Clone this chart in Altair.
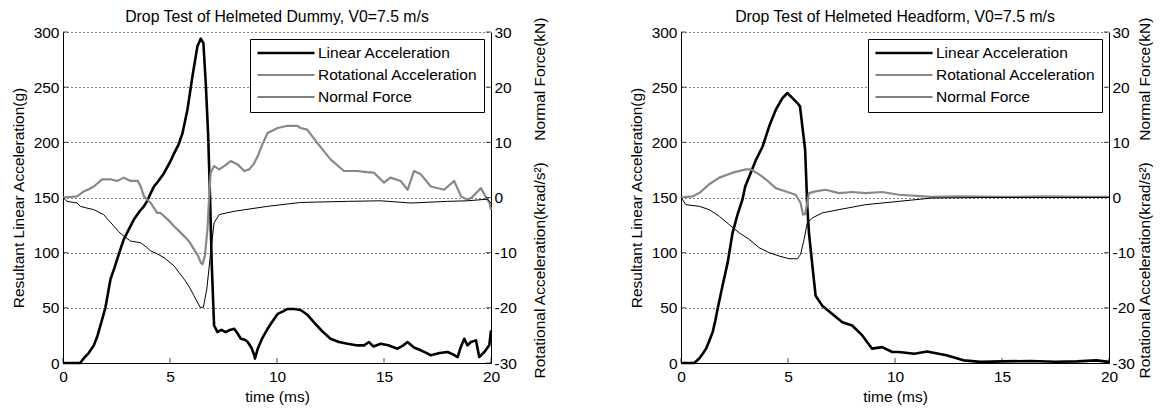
import altair as alt
import pandas as pd

FONT = "Liberation Sans"
FS = 15.5

SERIES = ["Linear Acceleration", "Rotational Acceleration", "Normal Force"]
COLORS = ["#000000", "#888888", "#000000"]
WIDTHS = [2.6, 2.2, 1.0]

TITLES = ["Drop Test of Helmeted Dummy, V0=7.5 m/s",
          "Drop Test of Helmeted Headform, V0=7.5 m/s"]
X_TITLE = "time (ms)"
YL_TITLE = "Resultant Linear Acceleration(g)"
YR_TITLE = "Rotational Acceleration(krad/s\u00b2)" + "\u00a0" * 5 + "Normal Force(kN)"

X_TICKS = [0, 5, 10, 15, 20]
YL_TICKS = [0, 50, 100, 150, 200, 250, 300]
YR_TICKS = [-30, -20, -10, 0, 10, 20, 30]

# ---- Dummy ----
dummy_lin_t = [0, 0.5, 0.8, 1.0, 1.2, 1.44, 1.6, 1.75, 1.98, 2.1, 2.22, 2.4, 2.53, 2.7, 2.84, 3.1,
               3.31, 3.6, 3.78, 3.94, 4.1, 4.25, 4.5, 4.72, 5.0, 5.19, 5.4, 5.58, 5.81, 6.05, 6.28,
               6.44, 6.56, 6.67, 6.78, 6.875, 6.95, 7.06, 7.22, 7.4, 7.6, 7.8, 8.0, 8.15, 8.31, 8.5,
               8.63, 8.8, 8.94, 8.97, 9.1, 9.3, 9.56, 9.8, 10.03, 10.3, 10.5, 10.8, 11.1, 11.4, 11.72,
               12.1, 12.5, 12.9, 13.29, 13.7, 14.07, 14.3, 14.5, 14.85, 15.2, 15.63, 15.9, 16.1, 16.4,
               16.72, 17.0, 17.19, 17.6, 17.97, 18.2, 18.44, 18.6, 18.75, 18.9, 19.06, 19.3, 19.45,
               19.69, 19.92, 20.0]
dummy_lin_v = [0, 0, 0, 5, 9, 16, 24, 34, 50, 63, 76, 86, 94, 104, 112, 122,
               130, 138, 142, 147, 154, 160, 166, 172, 182, 190, 198, 208, 229, 260, 287,
               294, 290, 254, 208, 148, 90, 34, 28, 30, 28, 30, 31, 27, 22, 21,
               19, 14, 7, 4, 13, 22, 31, 38, 44.5, 47, 49, 49, 48, 44, 37,
               29, 22, 19, 17.5, 16, 16, 19, 15, 17.5, 16, 13, 16, 19, 14,
               11.5, 9, 7, 9, 10, 8, 5.4, 15, 22, 16, 19, 20.5, 5.4,
               10, 16, 29.5]

dummy_rot_t = [0, 0.66, 0.97, 1.2, 1.44, 1.83, 2.22, 2.53, 2.84, 3.16, 3.5, 3.65, 3.78, 3.94, 4.1,
               4.4, 4.56, 4.9, 5.19, 5.4, 5.66, 5.9, 6.12, 6.3, 6.44, 6.52, 6.63, 6.75, 6.83, 6.9,
               7.06, 7.3, 7.53, 7.84, 8.16, 8.47, 8.7, 8.9, 9.1, 9.3, 9.56, 10.03, 10.5, 10.94, 11.1,
               11.41, 11.88, 12.5, 13.13, 13.75, 14.2, 14.53, 15.0, 15.3, 15.78, 16.1, 16.4, 16.72,
               17.19, 17.81, 18.28, 18.6, 18.9, 19.1, 19.53, 19.77, 19.93, 20.0]
dummy_rot_v = [0, 0.2, 1.1, 1.5, 2.0, 3.3, 3.3, 3.0, 3.6, 3.0, 3.0, 1.8, 0.2, -0.4, -1.0,
               -2.8, -2.8, -4.0, -5.2, -6.0, -7.0, -8.0, -9.4, -10.5, -11.8, -12.1, -10.6, -5.8, 0.2, 4.5,
               5.7, 5.1, 5.7, 6.6, 6.0, 4.8, 5.1, 6.0, 7.5, 9.5, 11.7, 12.6, 13.0, 13.0, 12.6,
               12.3, 9.9, 6.9, 4.8, 4.8, 4.6, 4.5, 2.7, 3.6, 3.0, 1.4, 4.8, 4.2,
               2.0, 1.4, 3.0, 0.2, -0.4, 0, 1.7, 0, -1.0, -2.2]

dummy_nf_t = [0, 0.19, 0.66, 0.81, 1.1, 1.44, 1.9, 2.1, 2.38, 2.6, 2.84, 3.16, 3.63, 3.9, 4.1, 4.4,
              4.72, 5.19, 5.4, 5.66, 5.9, 6.12, 6.41, 6.56, 6.72, 6.9, 7.06, 7.3, 8.0, 9.56, 11.1,
              13.29, 14.85, 16.26, 17.97, 18.9, 19.84, 20.0]
dummy_nf_v = [0, -0.7, -1.0, -1.6, -1.9, -2.2, -3.1, -4.0, -5.2, -6.2, -7.0, -7.9, -8.2, -9.0, -9.7, -10.2,
              -10.9, -12.4, -13.5, -14.8, -16.2, -17.8, -19.9, -19.9, -16.6, -10.0, -4.6, -3.1, -2.5, -1.6, -0.9,
              -0.7, -0.6, -1.0, -0.7, -0.6, -0.3, -1.0]

# ---- Headform ----
head_lin_t = [0, 0.4, 0.62, 0.85, 1.0, 1.17, 1.3, 1.48, 1.6, 1.71, 1.94, 2.18, 2.41, 2.64, 2.87, 3.0,
              3.19, 3.5, 3.81, 4.12, 4.43, 4.74, 4.97, 5.21, 5.44, 5.56, 5.67, 5.8, 5.86, 5.9, 5.98,
              6.14, 6.29, 6.6, 7.07, 7.54, 8.0, 8.47, 8.93, 9.4, 9.87, 10.18, 10.9, 11.5, 12.4, 13.2,
              14.0, 15.0, 16.35, 17.5, 18.5, 19.4, 20.0]
head_lin_v = [0, 0, 0, 4, 8, 13, 19, 28, 38, 49, 70, 91, 118, 134.5, 148, 160,
              169, 184, 196, 214.5, 229.6, 240, 244.7, 240, 235.6, 232.6, 214.5, 193.4, 163, 142, 118,
              88, 61, 52, 44.4, 37, 34, 25, 13, 14.4, 10, 10, 8.4, 10.5, 7, 2.4,
              1, 1.5, 1.8, 1.2, 1.5, 2.4, 1]

head_rot_t = [0, 0.54, 0.85, 1.32, 1.79, 2.41, 3.03, 3.26, 3.65, 3.96, 4.43, 4.9, 5.36, 5.59, 5.7,
              5.8, 5.9, 5.98, 6.29, 6.76, 7.38, 8.0, 8.62, 9.4, 10.18, 11.7, 13, 15, 17, 19, 20]
head_rot_v = [0, 0.2, 0.8, 2.4, 3.6, 4.5, 5.1, 5.1, 4.2, 3.3, 1.7, 1.1, 0.5, -1.0, -3.1,
              -3.0, -1.0, 0.8, 1.1, 1.4, 0.8, 1.0, 0.8, 1.0, 0.5, 0.1, 0.2, 0.1, 0.2, 0.1, 0.1]

head_nf_t = [0, 0.23, 0.85, 1.32, 1.79, 2.25, 2.72, 3.19, 3.65, 4.12, 4.58, 5.05, 5.44, 5.59, 5.75,
             5.9, 6.14, 6.6, 7.38, 8.62, 10.18, 11.7, 14, 17, 20]
head_nf_v = [0, -1.3, -1.6, -2.2, -3.4, -4.9, -6.4, -7.6, -9.1, -10.0, -10.6, -11.1, -11.1, -10.3, -7.6,
             -4.6, -3.7, -2.8, -2.2, -1.3, -0.7, -0.1, 0, 0, 0]


def panel(title, lin_t, lin_v, rot_t, rot_v, nf_t, nf_v, yr_title_pad):
    lin_df = pd.DataFrame({"t": lin_t, "v": lin_v, "s": SERIES[0]})
    right_df = pd.concat([
        pd.DataFrame({"t": rot_t, "v": rot_v, "s": SERIES[1]}),
        pd.DataFrame({"t": nf_t, "v": nf_v, "s": SERIES[2]}),
    ], ignore_index=True)

    x_scale = alt.Scale(domain=[0, 20], nice=False, zero=False)
    x_axis = alt.Axis(values=X_TICKS, grid=False, ticks=False, labelPadding=6,
                      titlePadding=5, labelFlush=False, labelOverlap=False)
    yl_scale = alt.Scale(domain=[0, 300], nice=False)
    yl_axis = alt.Axis(values=YL_TICKS, grid=True, gridDash=[1, 3], gridColor="#000000",
                       gridOpacity=1, gridWidth=1, ticks=False, labelPadding=4, titlePadding=7,
                       labelFlush=False, labelOverlap=False)
    yr_scale = alt.Scale(domain=[-30, 30], nice=False, zero=False)
    yr_axis = alt.Axis(orient="right", values=YR_TICKS, grid=False, ticks=False, labelPadding=3,
                       titlePadding=yr_title_pad, titleAngle=270, labelFlush=False,
                       labelOverlap=False, labelExpr="'' + datum.value")

    legend = alt.Legend(orient="top-right", title=None, symbolType="stroke", symbolSize=3249,
                        strokeColor="#000000", fillColor="#ffffff", padding=6, offset=7,
                        labelFont=FONT, labelFontSize=FS, labelColor="#000000", labelOffset=2,
                        rowPadding=5, clipHeight=16, cornerRadius=0)
    color = alt.Color("s:N", scale=alt.Scale(domain=SERIES, range=COLORS), legend=legend, title=None)
    width = alt.StrokeWidth("s:N", scale=alt.Scale(type="ordinal", domain=SERIES, range=WIDTHS),
                            legend=legend, title=None)

    lin_line = alt.Chart(lin_df).mark_line(strokeJoin="round").encode(
        x=alt.X("t:Q", scale=x_scale, axis=x_axis, title=X_TITLE),
        y=alt.Y("v:Q", scale=yl_scale, axis=yl_axis, title=YL_TITLE),
        color=color, strokeWidth=width,
    )
    left_ticks = alt.Chart(pd.DataFrame({"v": YL_TICKS})).mark_tick(
        orient="horizontal", size=5, thickness=1, color="#000000", xOffset=2.5
    ).encode(
        x=alt.datum(0),
        y=alt.Y("v:Q", scale=yl_scale, axis=yl_axis, title=YL_TITLE),
    )
    bottom_ticks = alt.Chart(pd.DataFrame({"t": X_TICKS})).mark_tick(
        orient="vertical", size=5, thickness=1, color="#000000", yOffset=-2.5
    ).encode(
        x=alt.X("t:Q", scale=x_scale, axis=x_axis, title=X_TITLE),
        y=alt.datum(0),
    )
    left_group = alt.layer(lin_line, left_ticks, bottom_ticks)

    right_lines = alt.Chart(right_df).mark_line(strokeJoin="round").encode(
        x=alt.X("t:Q", scale=x_scale, axis=x_axis, title=X_TITLE),
        y=alt.Y("v:Q", scale=yr_scale, axis=yr_axis, title=YR_TITLE),
        color=color, strokeWidth=width,
        order=alt.Order("s:N"),
    )
    right_ticks = alt.Chart(pd.DataFrame({"v": YR_TICKS})).mark_tick(
        orient="horizontal", size=5, thickness=1, color="#000000", xOffset=-2.5
    ).encode(
        x=alt.datum(20),
        y=alt.Y("v:Q", scale=yr_scale, axis=yr_axis, title=YR_TITLE),
    )
    right_group = alt.layer(right_lines, right_ticks)

    return alt.layer(left_group, right_group).resolve_scale(y="independent").properties(
        width=428, height=331, title=alt.TitleParams(title, offset=-9)
    )


p1 = panel(TITLES[0], dummy_lin_t, dummy_lin_v, dummy_rot_t, dummy_rot_v, dummy_nf_t, dummy_nf_v, 31)
p2 = panel(TITLES[1], head_lin_t, head_lin_v, head_rot_t, head_rot_v, head_nf_t, head_nf_v, 18)

chart = alt.hconcat(p1, p2, spacing=81).resolve_scale(
    color="independent", strokeWidth="independent"
).properties(
    padding={"left": 3, "top": 0, "right": 0, "bottom": 0},
    background="#ffffff",
).configure_view(stroke=None).configure_axis(
    domainColor="#000000", domainWidth=1,
    labelFont=FONT, labelFontSize=FS, labelColor="#000000",
    titleFont=FONT, titleFontSize=FS, titleFontWeight="normal", titleColor="#000000",
).configure_title(
    font=FONT, fontSize=15.8, fontWeight="normal", color="#000000", anchor="middle"
)

chart.save("out.html", embed_options={"renderer": "svg", "actions": False})
